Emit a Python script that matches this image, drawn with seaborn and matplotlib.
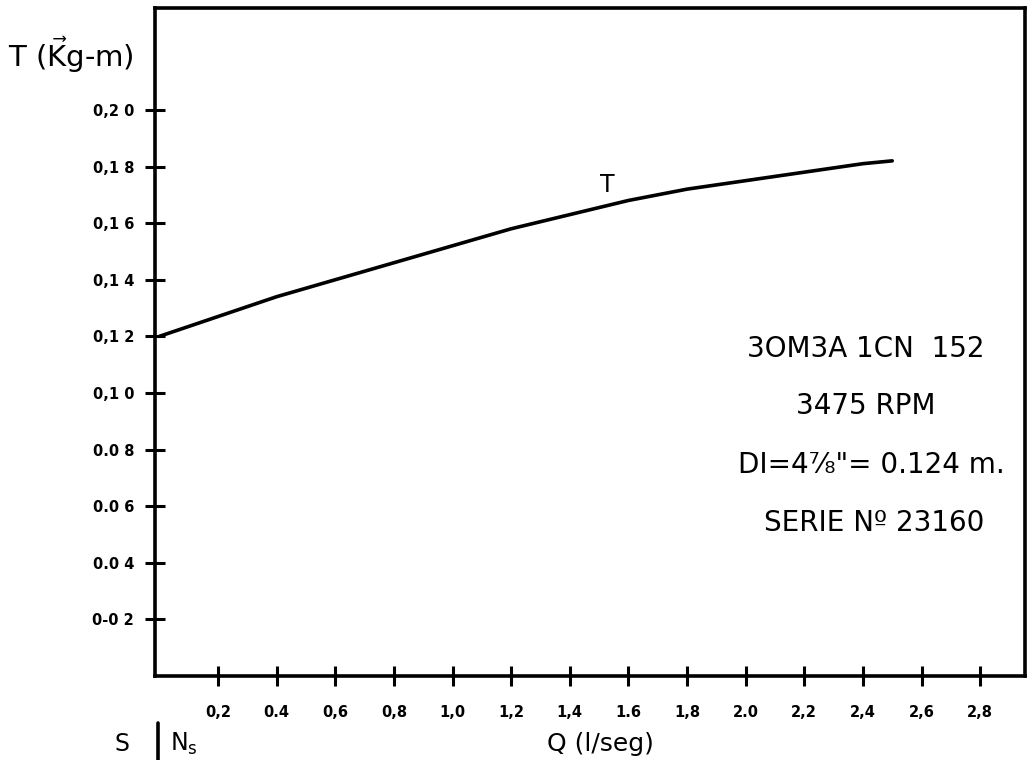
import numpy as np
import pandas as pd
import matplotlib
matplotlib.use("Agg")
import matplotlib.pyplot as plt
from matplotlib.lines import Line2D
import seaborn as sns

# Torque curve of the pump versus flow rate
caudal_q = [0.0, 0.2, 0.4, 0.6, 0.8, 1.0, 1.2, 1.4, 1.6, 1.8, 2.0, 2.2, 2.4, 2.5]
torque_t = [0.120, 0.127, 0.134, 0.140, 0.146, 0.152, 0.158, 0.163, 0.168,
            0.172, 0.175, 0.178, 0.181, 0.182]

x_ticks = [0.2, 0.4, 0.6, 0.8, 1.0, 1.2, 1.4, 1.6, 1.8, 2.0, 2.2, 2.4, 2.6, 2.8]
x_tick_labels = ["0,2", "0.4", "0,6", "0,8", "1,0", "1,2", "1,4", "1.6", "1,8",
                 "2.0", "2,2", "2,4", "2,6", "2,8"]
y_ticks = [0.02, 0.04, 0.06, 0.08, 0.10, 0.12, 0.14, 0.16, 0.18, 0.20]
y_tick_labels = ["0-0 2", "0.0 4", "0.0 6", "0.0 8", "0,1 0", "0,1 2",
                 "0,1 4", "0,1 6", "0,1 8", "0,2 0"]

info_lines = ["3OM3A 1CN  152", "3475 RPM", "DI=4\u215e\"= 0.124 m.",
              "SERIE N\u00ba 23160"]

sns.set_theme(style="white")
plt.rcParams["font.family"] = ["DejaVu Sans"]
plt.rcParams["mathtext.fontset"] = "dejavusans"

df = pd.DataFrame({"Q": caudal_q, "T": torque_t})

fig = plt.figure(figsize=(10.3, 7.6), dpi=100)
ax = fig.add_axes([155 / 1030, 1 - 676 / 760, 870 / 1030, 668 / 760])

sns.lineplot(data=df, x="Q", y="T", ax=ax, color="black", linewidth=2.6)

ax.set_xlim(-0.015, 2.953)
ax.set_ylim(0, 0.236)

ax.set_xticks(x_ticks)
ax.set_xticklabels(x_tick_labels, fontsize=10.5, fontweight="bold")
ax.set_yticks(y_ticks)
ax.set_yticklabels(y_tick_labels, fontsize=10.5, fontweight="bold")
ax.tick_params(axis="both", direction="inout", length=14, width=2.2,
               color="black", labelcolor="black", bottom=True, left=True)
ax.tick_params(axis="x", pad=14)
ax.tick_params(axis="y", pad=8)

for side in ["left", "bottom", "top", "right"]:
    ax.spines[side].set_visible(True)
    ax.spines[side].set_color("black")
    ax.spines[side].set_linewidth(2.6)

ax.set_xlabel("")
ax.set_ylabel("")

# curve label
ax.text(1.527, 0.1735, "T", fontsize=17, ha="center", va="center", color="black")

# pump data block
info_x = [2.41, 2.41, 2.43, 2.44]
info_y = [0.1155, 0.0955, 0.0745, 0.054]
for txt, xx, yy in zip(info_lines, info_x, info_y):
    ax.text(xx, yy, txt, fontsize=20, ha="center", va="center", color="black")

# axis titles
fig.text(8 / 1030, 1 - 55 / 760, r"T ($\vec{\mathrm{K}}$g-m)", fontsize=21,
         ha="left", va="center", color="black")
fig.text(600 / 1030, 1 - 744 / 760, "Q (l/seg)", fontsize=18,
         ha="center", va="center", color="black")

# S | Ns corner
fig.text(122 / 1030, 1 - 744 / 760, "S", fontsize=17, ha="center",
         va="center", color="black")
fig.text(170 / 1030, 1 - 744 / 760, "N$_\\mathrm{s}$", fontsize=17,
         ha="left", va="center", color="black")
fig.add_artist(Line2D([158 / 1030, 158 / 1030], [1 - 723 / 760, 0.0],
                      transform=fig.transFigure, color="black", linewidth=2.6))

fig.savefig("out.png", dpi=100, facecolor="white")
